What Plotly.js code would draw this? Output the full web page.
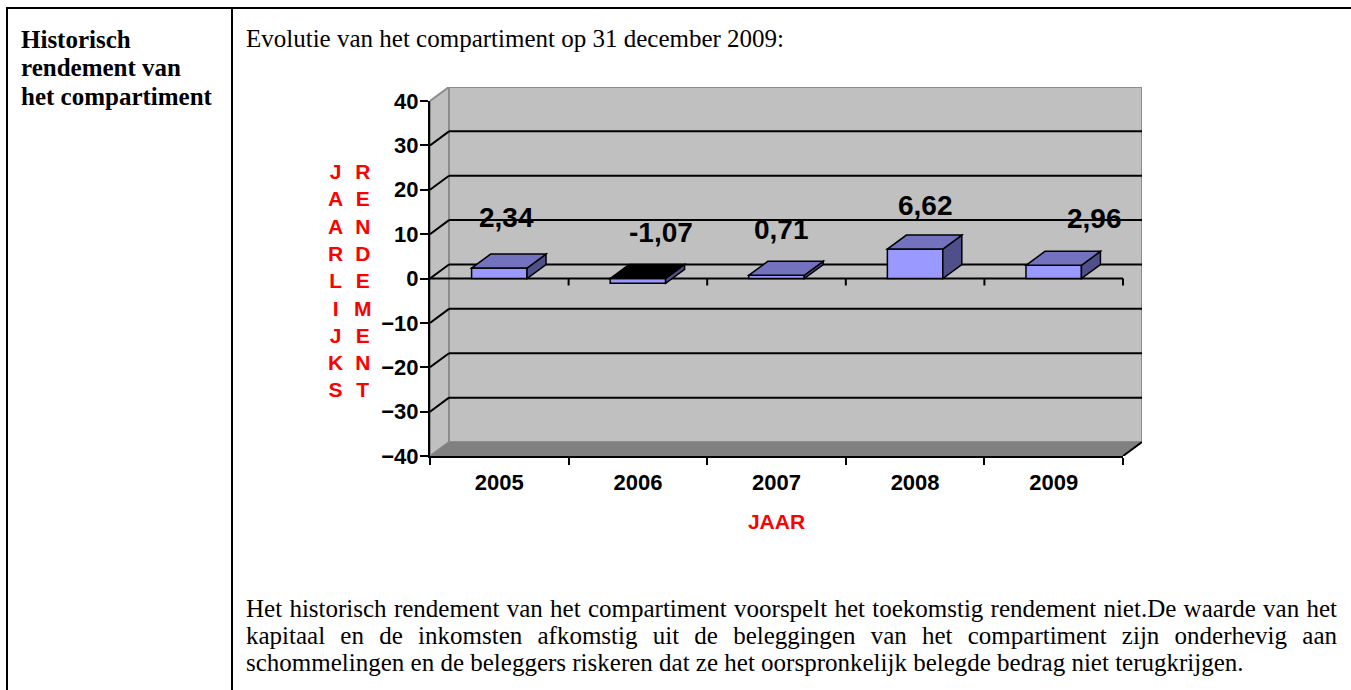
<!DOCTYPE html>
<html>
<head>
<meta charset="utf-8">
<script src="https://cdn.plot.ly/plotly-3.0.1.min.js"></script>
<style>
html,body{margin:0;padding:0;background:#fff;width:1351px;height:690px;overflow:hidden;}
#chart{position:absolute;left:0;top:0;width:1351px;height:690px;}
.rule{position:absolute;background:#000;}
.doc{position:absolute;font-family:'Liberation Serif','Times New Roman',serif;color:#000;font-size:25px;}
#leftcell{left:21px;top:25.5px;font-weight:bold;line-height:28.5px;}
#para{left:246px;top:595px;width:1091px;line-height:27px;}
#para div{white-space:nowrap;}
#para .j{text-align:justify;text-align-last:justify;}
</style>
</head>
<body>
<div id="chart"></div>
<div class="rule" style="left:6px;top:7px;width:1345px;height:2px"></div>
<div class="rule" style="left:6px;top:7px;width:2px;height:683px"></div>
<div class="rule" style="left:231px;top:7px;width:2px;height:683px"></div>
<div class="doc" id="leftcell">Historisch<br>rendement van<br>het compartiment</div>
<div class="doc" id="para">
<div class="j">Het historisch rendement van het compartiment voorspelt het toekomstig rendement niet.De waarde van het</div>
<div class="j">kapitaal en de inkomsten afkomstig uit de beleggingen van het compartiment zijn onderhevig aan</div>
<div>schommelingen en de beleggers riskeren dat ze het oorspronkelijk belegde bedrag niet terugkrijgen.</div>
</div>
<script>
// ---------------- data ----------------
const years = ['2005', '2006', '2007', '2008', '2009'];
const returns = [2.34, -1.07, 0.71, 6.62, 2.96];
const yTickVals = [-40, -30, -20, -10, 0, 10, 20, 30, 40];
const yTitleColumns = ['JAARLIJKS', 'RENDEMENT'];
const xTitle = 'JAAR';
const chartTitle = 'Evolutie van het compartiment op 31 december 2009:';

// ---------------- layout geometry (pixels) ----------------
const W = 1351, H = 690;
const M = {l: 430, r: 209, t: 87, b: 234};
const plotW = W - M.l - M.r, plotH = H - M.t - M.b;
const frontW = 693, frontH = 355;     // front plane of the 3D box
const depthX = 19, depthY = 14;       // 3D depth offset
const yMin = -40, yMax = 40;
const nCat = years.length;
const pxPerCat = frontW / nCat, pxPerUnit = frontH / (yMax - yMin);
const DX = depthX / pxPerCat, DY = depthY / pxPerUnit;
const L = -0.5, R = nCat - 0.5;
const halfBar = 0.2;
// Excel's label placement offsets (px) relative to each bar value
const labelShift = [[7, 51], [23, 51], [5, 46], [10, 44], [41, 47]];

const wallColor = '#C0C0C0', wallEdge = '#8C8C8C', floorColor = '#808080';
const barFront = '#9999FF', barTop = '#7272BF', barSide = '#4F4F8A', barTopNeg = '#000000';
const axisFont = {family: 'Liberation Sans, Arial, sans-serif', size: 22, weight: 'bold', color: '#000'};
const redFont = {family: 'Liberation Sans, Arial, sans-serif', size: 21, weight: 'bold', color: '#FF0000'};

const fmt = v => v.toFixed(2).replace('.', ',');
const P = pts => 'M' + pts.map(p => p[0] + ',' + p[1]).join(' L') + ' Z';

// ---------------- shapes: 3D box ----------------
const shapes = [];
const base = {xref: 'x', yref: 'y'};
// back wall
shapes.push(Object.assign({}, base, {type: 'rect', layer: 'below', x0: L + DX, x1: R + DX, y0: yMin + DY, y1: yMax + DY,
  fillcolor: wallColor, line: {color: wallEdge, width: 2}}));
// left side wall
shapes.push(Object.assign({}, base, {type: 'path', layer: 'below',
  path: P([[L, yMin], [L, yMax], [L + DX, yMax + DY], [L + DX, yMin + DY]]),
  fillcolor: wallColor, line: {color: wallEdge, width: 2}}));
// floor
shapes.push(Object.assign({}, base, {type: 'path', layer: 'below',
  path: P([[L, yMin], [R, yMin], [R + DX, yMin + DY], [L + DX, yMin + DY]]),
  fillcolor: floorColor, line: {width: 0}}));
shapes.push(Object.assign({}, base, {type: 'line', layer: 'below', x0: R, y0: yMin, x1: R + DX, y1: yMin + DY,
  line: {color: '#000', width: 2}}));
// gridlines on back wall and side wall
yTickVals.filter(t => t > yMin && t < yMax).forEach(t => {
  shapes.push(Object.assign({}, base, {type: 'line', layer: 'below', x0: L + DX, y0: t + DY, x1: R + DX, y1: t + DY,
    line: {color: '#000', width: 2}}));
  shapes.push(Object.assign({}, base, {type: 'line', layer: 'below', x0: L, y0: t, x1: L + DX, y1: t + DY,
    line: {color: '#000', width: 2}}));
});
// category axis at zero with boundary ticks
shapes.push(Object.assign({}, base, {type: 'line', layer: 'below', x0: L, y0: 0, x1: R, y1: 0, line: {color: '#000', width: 2}}));
for (let i = 1; i <= nCat; i++) {
  shapes.push(Object.assign({}, base, {type: 'line', layer: 'below', ysizemode: 'pixel', yanchor: 0,
    x0: L + i, x1: L + i, y0: 0, y1: -7, line: {color: '#000', width: 2}}));
}
// bar top and side faces
returns.forEach((v, i) => {
  const lo = Math.min(v, 0), hi = Math.max(v, 0);
  shapes.push(Object.assign({}, base, {type: 'path', layer: 'above',
    path: P([[i + halfBar, lo], [i + halfBar, hi], [i + halfBar + DX, hi + DY], [i + halfBar + DX, lo + DY]]),
    fillcolor: barSide, line: {color: '#000', width: 1.5}}));
  shapes.push(Object.assign({}, base, {type: 'path', layer: 'above',
    path: P([[i - halfBar, hi], [i + halfBar, hi], [i + halfBar + DX, hi + DY], [i - halfBar + DX, hi + DY]]),
    fillcolor: v < 0 ? barTopNeg : barTop, line: {color: '#000', width: 1.5}}));
});

// ---------------- annotations ----------------
const annotations = returns.map((v, i) => ({
  xref: 'x', yref: 'y', x: i, y: v, text: fmt(v), showarrow: false,
  xanchor: 'center', yanchor: 'middle',
  xshift: labelShift[i][0], yshift: labelShift[i][1],
  font: {family: 'Liberation Sans, Arial, sans-serif', size: 28, weight: 'bold', color: '#000'}
}));
const colX = [335.7, 363];
yTitleColumns.forEach((word, k) => {
  annotations.push({xref: 'paper', yref: 'paper', x: (colX[k] - M.l) / plotW, y: (H - M.b - 280) / plotH,
    xanchor: 'center', yanchor: 'middle', showarrow: false, text: word.split('').join('<br>'), font: redFont});
});

const traces = [
  {type: 'scatter', x: [null], y: [null], xaxis: 'x', yaxis: 'y', showlegend: false, hoverinfo: 'skip'},
  {type: 'bar', x: years, y: returns, xaxis: 'x2', yaxis: 'y2', width: 2 * halfBar,
   marker: {color: barFront, line: {color: '#000', width: 1.5}}, showlegend: false, hoverinfo: 'skip'}
];

const layout = {
  width: W, height: H, margin: M, autosize: false,
  paper_bgcolor: 'rgba(0,0,0,0)', plot_bgcolor: 'rgba(0,0,0,0)', showlegend: false,
  title: {text: chartTitle, xref: 'container', yref: 'container', x: 246 / W, xanchor: 'left',
    y: 1 - 29.2 / H, yanchor: 'top', pad: {t: 0, b: 0, l: 0, r: 0},
    font: {family: 'Liberation Serif, Times New Roman, serif', size: 25, color: '#000'}},
  xaxis: {visible: false, range: [L, L + plotW / pxPerCat], fixedrange: true, domain: [0, 1]},
  yaxis: {visible: false, range: [yMin, yMin + plotH / pxPerUnit], fixedrange: true, domain: [0, 1]},
  xaxis2: {type: 'category', categoryorder: 'array', categoryarray: years, domain: [0, frontW / plotW], range: [L, R], anchor: 'y',
    tickson: 'boundaries', ticks: 'outside', ticklen: 7, tickwidth: 2, tickcolor: '#000', ticklabelstandoff: 6,
    showline: true, linewidth: 2, linecolor: '#000', showgrid: false, zeroline: false, fixedrange: true,
    tickfont: axisFont, title: {text: xTitle, font: redFont, standoff: 20}},
  yaxis2: {domain: [0, frontH / plotH], range: [yMin, yMax], anchor: 'x', tickvals: yTickVals,
    ticks: 'outside', ticklen: 8, tickwidth: 2, tickcolor: '#000', ticklabelstandoff: -3,
    showline: true, linewidth: 2, linecolor: '#000', showgrid: false, zeroline: false, fixedrange: true,
    tickfont: axisFont},
  shapes: shapes,
  annotations: annotations
};

Plotly.newPlot('chart', traces, layout, {staticPlot: true, displayModeBar: false});
</script>
</body>
</html>
